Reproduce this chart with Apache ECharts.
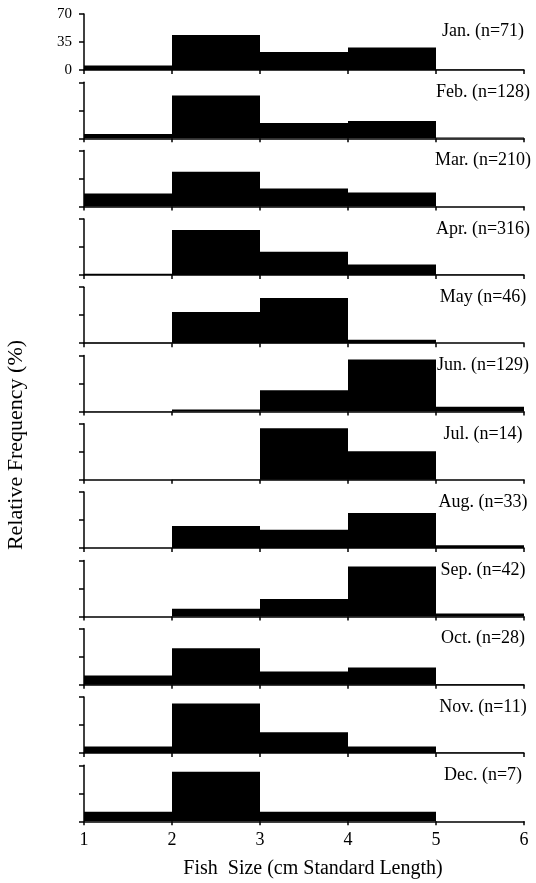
<!DOCTYPE html>
<html>
<head>
<meta charset="utf-8">
<script src="https://cdn.jsdelivr.net/npm/echarts@6/dist/echarts.min.js"></script>
<style>
  html, body { margin: 0; padding: 0; background: #fff; }
  #chart { width: 536px; height: 883px; }
</style>
</head>
<body>
<div id="chart"></div>
<script>
// bin edges in cm standard length, bins are [1-2), [2-3) ... [5-6)
const binEdges = [1, 2, 3, 4, 5, 6];
const yTicks = [0, 35, 70];
const monthNames = ['Jan.', 'Feb.', 'Mar.', 'Apr.', 'May', 'Jun.', 'Jul.', 'Aug.', 'Sep.', 'Oct.', 'Nov.', 'Dec.'];
const sampleSizes = [71, 128, 210, 316, 46, 129, 14, 33, 42, 28, 11, 7];

// relative frequency (%) for each size bin
const jan = [5.6, 43.7, 22.5, 28.2, 0.5];
const feb = [5.5, 53.5, 19, 21.5, 1];
const mar = [16.5, 43.5, 22.5, 17.5, 0];
const apr = [1.5, 56, 29, 13, 0.5];
const may = [0.5, 39.1, 56.5, 4.3, 0];
const jun = [0.3, 2.5, 26.5, 65, 6];
const jul = [0, 0.5, 64.3, 35.7, 0];
const aug = [0, 27.5, 23, 44, 3.5];
const sep = [0, 9.6, 21.8, 62.4, 3.5];
const oct = [11.5, 45.5, 16.5, 21.5, 1];
const nov = [8, 62, 26, 8, 0.5];
const dec = [12, 62, 12, 12, 0];
const monthValues = [jan, feb, mar, apr, may, jun, jul, aug, sep, oct, nov, dec];

const serif = '"Liberation Serif", "Times New Roman", serif';
const panelStep = 68.3;
const panelHeight = 56;

var myChart = echarts.init(document.getElementById('chart'), null, { renderer: 'canvas' });

var grids = [], xAxes = [], yAxes = [], series = [], texts = [];

monthValues.forEach(function (vals, i) {
    var top = 14 + panelStep * i;
    var last = i === monthValues.length - 1;
    grids.push({ left: 84, right: 12, top: top, height: panelHeight });
    xAxes.push({
        type: 'value', gridIndex: i,
        min: binEdges[0], max: binEdges[binEdges.length - 1], interval: 1,
        axisLine: { show: true, lineStyle: { color: '#000', width: 1.5 } },
        axisTick: { show: true, length: 4, lineStyle: { color: '#000', width: 1.5 } },
        splitLine: { show: false },
        axisLabel: {
            show: last, margin: 10, color: '#000',
            fontFamily: serif, fontSize: 18
        }
    });
    yAxes.push({
        type: 'value', gridIndex: i,
        min: yTicks[0], max: yTicks[yTicks.length - 1], interval: yTicks[1] - yTicks[0],
        axisLine: { show: true, lineStyle: { color: '#000', width: 1.5 } },
        axisTick: { show: true, length: 5, lineStyle: { color: '#000', width: 1.5 } },
        splitLine: { show: false },
        axisLabel: {
            show: i === 0, margin: 12, color: '#000',
            fontFamily: serif, fontSize: 15
        }
    });
    series.push({
        type: 'custom',
        xAxisIndex: i, yAxisIndex: i,
        encode: { x: [0, 1], y: 2 },
        data: vals.map(function (v, j) { return [binEdges[j], binEdges[j + 1], v]; }),
        renderItem: function (params, api) {
            var p0 = api.coord([api.value(0), api.value(2)]);
            var p1 = api.coord([api.value(1), 0]);
            return {
                type: 'rect',
                shape: { x: p0[0], y: p0[1], width: p1[0] - p0[0], height: p1[1] - p0[1] },
                style: { fill: '#000' }
            };
        },
        silent: true
    });
    texts.push({
        type: 'text', x: 483, y: top + (i === 0 ? 17 : 10),
        style: {
            text: monthNames[i] + ' (n=' + sampleSizes[i] + ')',
            font: '18px ' + serif, fill: '#000',
            textAlign: 'center', align: 'center',
            textVerticalAlign: 'middle', verticalAlign: 'middle'
        }
    });
});

// axis titles
texts.push({
    type: 'text', x: 16, y: 445, rotation: Math.PI / 2,
    style: {
        text: 'Relative Frequency (%)',
        font: '22px ' + serif, fill: '#000',
        textAlign: 'center', align: 'center',
        textVerticalAlign: 'middle', verticalAlign: 'middle'
    }
});
texts.push({
    type: 'text', x: 313, y: 869,
    style: {
        text: 'Fish  Size (cm Standard Length)',
        font: '20px ' + serif, fill: '#000',
        textAlign: 'center', align: 'center',
        textVerticalAlign: 'middle', verticalAlign: 'middle'
    }
});

var option = {
    animation: false,
    backgroundColor: '#fff',
    grid: grids,
    xAxis: xAxes,
    yAxis: yAxes,
    series: series,
    graphic: texts
};
myChart.setOption(option);
window.addEventListener('resize', function () { myChart.resize(); });
</script>
</body>
</html>
